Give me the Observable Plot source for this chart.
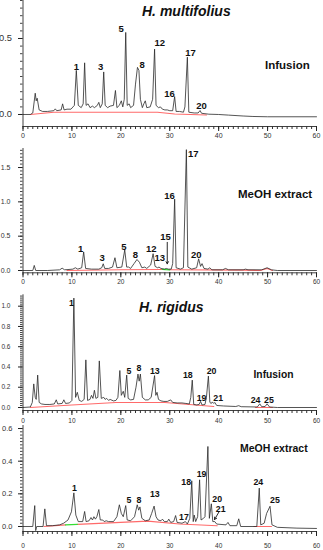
<!DOCTYPE html>
<html>
<head>
<meta charset="utf-8">
<script src="https://cdn.jsdelivr.net/npm/d3@7"></script>
<script src="https://cdn.jsdelivr.net/npm/@observablehq/plot@0.6"></script>
<style>
  body { margin: 0; background: #fff; }
  #c { position: relative; width: 323px; height: 550px; font-family: "Liberation Sans", Arial, sans-serif; overflow: hidden; }
  .lbl { position: absolute; white-space: nowrap; line-height: 1; font-weight: bold; color: #111; }
</style>
</head>
<body>
<div id="c"></div>
<script>
// ---------- Data: chromatogram traces [retention time (min), absorbance (AU)] ----------
const mfInfusion = [[0,0],[1.5,0],[2.0,0.01],[2.5,0.14],[2.7,0.09],[2.9,0.107],[3.3,0.03],[4,0.02],[5,0.02],[6.3,0.025],[6.6,0.037],[6.9,0.025],[7.8,0.03],[8.1,0.07],[8.4,0.03],[9,0.035],[9.8,0.035],[10.5,0.06],[10.9,0.29],[11.3,0.06],[11.9,0.045],[12.3,0.07],[12.6,0.34],[12.9,0.06],[13.3,0.07],[13.7,0.045],[14.2,0.055],[14.6,0.045],[15.2,0.06],[15.5,0.08],[15.8,0.045],[16.2,0.07],[16.5,0.28],[16.8,0.06],[17.3,0.045],[17.8,0.055],[18.5,0.06],[18.9,0.158],[19.2,0.045],[19.7,0.06],[20.1,0.09],[20.4,0.05],[20.7,0.1],[21.0,0.54],[21.3,0.06],[21.7,0.07],[22.0,0.045],[22.6,0.06],[23.0,0.2],[23.4,0.31],[23.7,0.29],[24.0,0.1],[24.4,0.045],[24.7,0.07],[25.0,0.09],[25.3,0.045],[26.0,0.05],[26.5,0.1],[26.9,0.43],[27.2,0.06],[27.7,0.045],[28.1,0.05],[28.5,0.035],[29,0.03],[29.5,0.03],[30,0.025],[30.6,0.025],[31.0,0.118],[31.3,0.02],[32,0.02],[32.8,0.015],[33.1,0.05],[33.6,0.377],[33.9,0.015],[35,0.01],[35.8,0.01],[36.2,0.026],[36.5,0.008],[38,0.002],[40,0],[42,-0.004],[45,-0.01],[47,-0.013],[50,-0.015],[60,-0.015]];
const mfInfusionBase = [[1.5,0],[6.3,0.015],[27.5,0.015],[31,0.003],[37.5,-0.003]];

const mfMeoh = [[0,0],[2.0,0],[2.3,0.074],[2.6,0],[5,0],[7.5,0.01],[8.0,0.034],[8.5,0.01],[10.2,0.02],[10.7,0.04],[11.2,0.02],[12.0,0.04],[12.4,0.27],[12.8,0.03],[14,0.02],[15.5,0.02],[16.1,0.04],[16.4,0.098],[16.7,0.03],[17.5,0.03],[18.3,0.05],[18.8,0.186],[19.2,0.04],[20.2,0.05],[20.8,0.30],[21.2,0.05],[21.6,0.05],[22,0.03],[22.7,0.1],[23.3,0.16],[23.8,0.12],[24.3,0.04],[24.9,0.05],[25.3,0.03],[26.1,0.08],[26.6,0.245],[27.0,0.06],[27.5,0.04],[27.8,0.05],[28.2,0.03],[28.9,0.02],[29.3,0.03],[29.7,0.02],[30.3,0.02],[30.6,0.1],[31.0,1.04],[31.3,0.04],[32.2,0.02],[32.8,0.04],[33.4,1.76],[33.7,0.05],[34.5,0.02],[35.5,0.04],[35.9,0.17],[36.3,0.06],[36.6,0.1],[37,0.03],[37.8,0.02],[38.2,0.04],[38.6,0.01],[40.8,0.01],[41.4,0.03],[42,0.01],[45,0.01],[45.5,0.02],[46,0.01],[48.8,0.01],[49.9,0.04],[50.8,0.01],[52,0],[60,0]];
const mfMeohBase = [[9,0],[20,0.01],[28.5,0.015]];
const mfMeohBase2 = [[30,0.01],[45,0.005],[48.5,0],[49.9,0.03],[51,0]];
const mfMeohGreen = [[28.5,0.015],[30,0.01]];

const hrInfusion = [[0,0],[1.5,0.005],[1.9,0.05],[2.2,0.233],[2.5,0.1],[2.7,0.08],[3.0,0.32],[3.3,0.05],[3.8,0.035],[4.5,0.03],[5.5,0.03],[6.4,0.035],[6.8,0.076],[7.1,0.035],[8.0,0.04],[8.35,0.076],[8.7,0.04],[9.5,0.045],[10.0,0.07],[10.4,1.08],[10.75,0.1],[11.1,0.15],[11.5,0.07],[12.0,0.06],[12.5,0.08],[12.85,0.47],[13.2,0.07],[13.7,0.08],[14.0,0.12],[14.3,0.09],[14.6,0.17],[14.9,0.09],[15.3,0.1],[15.6,0.46],[16.0,0.09],[16.5,0.1],[16.8,0.08],[17.1,0.09],[17.5,0.07],[17.8,0.08],[18.5,0.065],[19.0,0.07],[19.4,0.1],[19.8,0.365],[20.1,0.12],[20.5,0.16],[20.8,0.1],[21.2,0.32],[21.5,0.09],[22.0,0.075],[22.6,0.08],[23.1,0.2],[23.5,0.33],[23.75,0.26],[24.0,0.33],[24.4,0.1],[25.0,0.075],[25.6,0.075],[26.2,0.1],[26.9,0.315],[27.15,0.12],[27.4,0.15],[27.7,0.08],[28.2,0.065],[28.8,0.06],[29.5,0.06],[30.2,0.075],[30.6,0.05],[31.5,0.045],[32.5,0.045],[33.3,0.04],[34.0,0.035],[34.3,0.1],[34.6,0.27],[34.9,0.03],[35.5,0.025],[36.0,0.03],[36.3,0.06],[36.6,0.025],[37.2,0.03],[37.5,0.1],[37.9,0.31],[38.2,0.05],[38.5,0.04],[38.7,0.055],[39.0,0.04],[39.2,0.05],[39.6,0.02],[41,0.015],[43.5,0.01],[44.1,0.018],[44.6,0.008],[47.9,0.005],[48.4,0.036],[48.8,0.008],[49.5,0.01],[49.9,0.036],[50.4,0.005],[52,0],[60,0]];
const hrInfusionBase = [[1.5,0],[10,0.025],[19,0.05],[29,0.05],[39,0.01]];
const hrInfusionBase2 = [[47.5,0],[51,0]];

const hrMeoh = [[0,0],[2.0,0],[2.4,0.128],[2.6,-0.025],[2.8,0],[4.1,0],[4.46,0.108],[4.8,0.005],[6,0.005],[7.5,0.01],[8.3,0.02],[9.2,0.04],[9.9,0.09],[10.4,0.206],[10.8,0.07],[11.3,0.03],[12.2,0.03],[12.6,0.092],[12.9,0.03],[13.5,0.035],[13.9,0.055],[14.2,0.04],[14.5,0.06],[14.8,0.045],[15.1,0.06],[15.5,0.104],[15.8,0.04],[16.3,0.04],[16.6,0.03],[17.0,0.035],[17.5,0.03],[18.5,0.03],[19.2,0.06],[19.7,0.133],[20.1,0.08],[20.5,0.06],[21.0,0.128],[21.3,0.04],[22.0,0.035],[22.8,0.06],[23.35,0.133],[23.65,0.1],[23.9,0.12],[24.3,0.05],[25.0,0.035],[25.8,0.04],[26.3,0.08],[26.8,0.125],[27.2,0.06],[27.6,0.04],[28.2,0.035],[28.5,0.045],[28.9,0.03],[29.5,0.03],[29.8,0.045],[30.2,0.025],[30.8,0.03],[31.2,0.067],[31.5,0.025],[32.5,0.02],[33.2,0.03],[33.6,0.015],[34.1,0.05],[34.5,0.28],[34.8,0.03],[35.0,0.07],[35.3,0.03],[35.7,0.06],[36.1,0.286],[36.4,0.04],[36.9,0.05],[37.2,0.06],[37.8,0.49],[38.1,0.05],[38.5,0.139],[38.8,0.03],[39.2,0.03],[39.6,0.015],[41.5,0.01],[41.9,0.025],[42.3,0.005],[43.7,0.005],[44.1,0.047],[44.5,0],[47.8,0],[48.3,0.235],[48.6,0.01],[49.3,0.02],[49.8,0.08],[50.5,0.124],[50.9,0.01],[52,-0.005],[56,-0.01],[60,-0.012]];
const hrMeohBase = [[4.3,0],[8.7,0.01]];
const hrMeohGreen = [[8.7,0.01],[11.1,0.013]];
const hrMeohBase2 = [[11.1,0.013],[25.5,0.033],[32,0.015],[39.7,0.005]];
const hrMeohBase3 = [[47.2,0],[50.8,0]];

// ---------- Peak numbers [label, retention time, label height] ----------
const mfInfusionPeaks = [["1",10.94,0.316],["3",15.85,0.31],["5",20.08,0.564],["8",24.38,0.329],["12",27.98,0.469],["16",29.96,0.136],["17",34.25,0.406],["20",36.5,0.059]];
const mfMeohPeaks = [["1",11.76,0.316],["3",16.2,0.179],["5",20.6,0.35],["8",23.0,0.228],["12",26.2,0.316],["13",27.98,0.179],["15",29.14,0.495],["16",29.96,1.092],["17",34.8,1.70],["20",35.4,0.228]];
const hrInfusionPeaks = [["1",9.92,1.03],["5",21.64,0.358],["8",23.68,0.388],["13",26.95,0.358],["18",33.7,0.316],["19",36.5,0.096],["20",38.55,0.358],["21",39.9,0.096],["24",47.55,0.069],["25",50.27,0.069]];
const hrMeohPeaks = [["1",10.53,0.237],["5",21.64,0.159],["8",23.68,0.159],["13",26.95,0.2],["17",32.9,0.057],["18",33.37,0.271],["19",36.5,0.323],["20",39.7,0.17],["21",40.4,0.108],["24",48.1,0.271],["25",51.5,0.159]];

// arrows pointing at small peaks [t1, v1, t2, v2]
const mfMeohArrows = [[29.49,0.41,29.49,0.098]];
const hrMeohArrows = [[40.04,0.088,39.16,0.043]];

// ---------- Tick values ----------
const xMajor = [0,10,20,30,40,50,60];
const mfInfusionYTicks = [0,0.5];
const mfMeohYTicks = [0,0.5,1.0,1.5];
const hrInfusionYTicks = [0,0.2,0.4,0.6,0.8,1.0];
const hrMeohYTicks = [0,0.2,0.4,0.6];

const pts = a => a.map(([t, v]) => ({t, v}));
const peaks = a => a.map(([n, t, v]) => ({n, t, v}));
const arrows = a => a.map(([t1, v1, t2, v2]) => ({t1, v1, t2, v2}));
const fmt = d3.format(".1f");

function panel(o) {
  const xMinor = d3.range(0, 61, 1);
  const yMinor = d3.range(0, o.yDomain[1] + 1e-9, o.yMinorStep);
  const marks = [];
  for (const b of o.red) marks.push(Plot.line(pts(b), {x: "t", y: "v", stroke: "#ff5050", strokeWidth: 1.1, strokeOpacity: 0.85}));
  for (const g of (o.green || [])) marks.push(Plot.line(pts(g), {x: "t", y: "v", stroke: "#33dd33", strokeWidth: 1.3}));
  marks.push(Plot.line(pts(o.trace), {x: "t", y: "v", stroke: "#2a2a2a", strokeWidth: 0.8}));
  marks.push(Plot.text(peaks(o.labels), {x: "t", y: "v", text: "n", fontWeight: "bold", fontSize: o.peakFont, fill: "#111", textAnchor: "middle", lineAnchor: "middle"}));
  if (o.arrows) marks.push(Plot.arrow(arrows(o.arrows), {x1: "t1", y1: "v1", x2: "t2", y2: "v2", stroke: "#111", strokeWidth: 0.9, headLength: 4}));
  marks.push(Plot.ruleX([0], {stroke: "#111", strokeWidth: 0.8}));
  marks.push(Plot.ruleY([o.yDomain[0]], {stroke: "#111", strokeWidth: 0.8}));
  marks.push(Plot.axisX(xMinor, {anchor: "bottom", tickSize: 3, tickFormat: () => "", label: null, stroke: "#333"}));
  marks.push(Plot.axisX(xMajor, {anchor: "bottom", tickSize: 5, tickPadding: o.xPad, fontSize: o.xFont, label: null, stroke: "#222", fill: "#333"}));
  marks.push(Plot.axisY(yMinor, {anchor: "left", tickSize: 2.5, tickFormat: () => "", label: null, stroke: "#444"}));
  marks.push(Plot.axisY(o.yTicks, {anchor: "left", tickSize: 4.5, tickPadding: o.yPad, tickFormat: fmt, fontSize: o.yFont, label: null, stroke: "#222", fill: "#333"}));
  return Plot.plot({
    width: 323,
    height: o.height,
    marginLeft: 22.5,
    marginRight: 7,
    marginTop: o.mt,
    marginBottom: o.mb,
    x: {domain: [0, 60]},
    y: {domain: o.yDomain},
    style: {position: "absolute", left: "0px", top: o.top + "px", background: "transparent", overflow: "visible", fontFamily: "Liberation Sans, Arial, sans-serif"},
    marks
  });
}

const c = document.getElementById("c");
c.appendChild(panel({trace: mfInfusion, red: [mfInfusionBase], labels: mfInfusionPeaks, yTicks: mfInfusionYTicks, yMinorStep: 0.05,
  yDomain: [-0.079, 0.75], top: 0, height: 150, mt: 0, mb: 24, xFont: 7, xPad: 2, yFont: 9.3, yPad: 6.5, peakFont: 9.5}));
c.appendChild(panel({trace: mfMeoh, red: [mfMeohBase, mfMeohBase2], green: [mfMeohGreen], labels: mfMeohPeaks, arrows: mfMeohArrows, yTicks: mfMeohYTicks, yMinorStep: 0.05,
  yDomain: [-0.0335, 1.777], top: 140, height: 150, mt: 8, mb: 17.7, xFont: 6.5, xPad: 1.5, yFont: 7, yPad: 8, peakFont: 9.5}));
c.appendChild(panel({trace: hrInfusion, red: [hrInfusionBase, hrInfusionBase2], labels: hrInfusionPeaks, yTicks: hrInfusionYTicks, yMinorStep: 0.02,
  yDomain: [-0.0296, 1.1125], top: 285, height: 145, mt: 9.3, mb: 20, xFont: 6.5, xPad: 3, yFont: 6.5, yPad: 8, peakFont: 8.8}));
c.appendChild(panel({trace: hrMeoh, red: [hrMeohBase, hrMeohBase2, hrMeohBase3], green: [hrMeohGreen], labels: hrMeohPeaks, arrows: hrMeohArrows, yTicks: hrMeohYTicks, yMinorStep: 0.02,
  yDomain: [-0.0306, 0.6185], top: 415, height: 135, mt: 10, mb: 19, xFont: 6.5, xPad: 7, yFont: 7.5, yPad: 6, peakFont: 8.8}));

// ---------- Titles and sample labels ----------
const texts = [
  {s: "H. multifolius", left: 142, base: 16, size: 14, italic: true},
  {s: "Infusion", left: 265, base: 70, size: 11.5},
  {s: "MeOH extract", left: 238, base: 198.3, size: 11.5},
  {s: "H. rigidus", left: 139, base: 311.7, size: 14, italic: true},
  {s: "Infusion", left: 253.5, base: 378.5, size: 10.3},
  {s: "MeOH extract", left: 240, base: 451.7, size: 10.5}
];
for (const t of texts) {
  const d = document.createElement("div");
  d.className = "lbl";
  d.textContent = t.s;
  d.style.left = t.left + "px";
  d.style.top = (t.base - 0.83 * t.size) + "px";
  d.style.fontSize = t.size + "px";
  if (t.italic) d.style.fontStyle = "italic";
  c.appendChild(d);
}
</script>
</body>
</html>
